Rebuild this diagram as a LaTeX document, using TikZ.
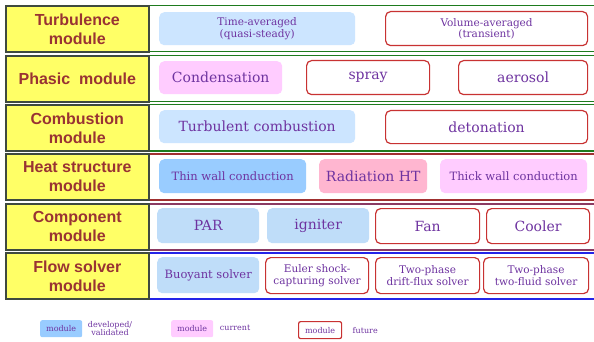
\documentclass[tikz,border=0pt]{standalone}
\usepackage{fontspec}
\setmainfont{DejaVu Serif}
\newfontfamily\labelsans{Liberation Sans}
\usepackage{tikz}
\usetikzlibrary{positioning}

\definecolor{labelyellow}{HTML}{FFFF66}
\definecolor{labelborder}{HTML}{3F4A3F}
\definecolor{labeltext}{HTML}{993333}
\definecolor{blocktext}{HTML}{6E33A0}
\definecolor{lightdone}{HTML}{CCE5FF}
\definecolor{donefill}{HTML}{BFDDF9}
\definecolor{darkdone}{HTML}{99CCFF}
\definecolor{curfill}{HTML}{FFCCFF}
\definecolor{radfill}{HTML}{FFB6D0}
\definecolor{futureline}{HTML}{C83232}
\definecolor{greenframe}{HTML}{1E7B1E}
\definecolor{redframe}{HTML}{A03030}
\definecolor{maroonframe}{HTML}{8B3A62}
\definecolor{blueframe}{HTML}{2424E8}

\begin{document}
\begin{tikzpicture}[
    x=1pt, y=-1pt,
    modlabel/.style={rectangle, draw=labelborder, line width=1.6pt, fill=labelyellow, text=labeltext, align=center, inner sep=0pt, anchor=north west, minimum width=143pt, minimum height=46pt, font={\labelsans\bfseries\fontsize{16}{19}\selectfont}},
    rowframe/.style={rectangle, line width=1.5pt, fill=white, anchor=north west, minimum width=490pt, minimum height=46pt},
    doneblock/.style={rectangle, rounded corners=5pt, fill=donefill, text=blocktext, align=center, inner sep=0pt, anchor=north west, font=\fontsize{14}{16}\selectfont},
    curblock/.style={doneblock, fill=curfill},
    futureblock/.style={doneblock, fill=white, draw=futureline, line width=1.2pt},
    small/.style={font=\fontsize{11.5}{13}\selectfont},
    twoline/.style={font=\fontsize{10.5}{11.5}\selectfont},
    legtext/.style={text=blocktext, align=center, font=\fontsize{8}{8.5}\selectfont},
]
\useasboundingbox (0,0) rectangle (594,342);

% Row frames
\node[rowframe, draw=greenframe] (f1) at (148,5) {};
\node[rowframe, draw=greenframe] (f2) at (148,55) {};
\node[rowframe, draw=greenframe] (f3) at (148,104) {};
\node[rowframe, draw=redframe] (f4) at (148,153) {};
\node[rowframe, draw=maroonframe] (f5) at (148,203) {};
\node[rowframe, draw=blueframe] (f6) at (148,252) {};

% Module labels
\node[modlabel] (turb) at (5,5) {Turbulence\\module};
\node[modlabel] (phas) at (5,55) {Phasic\ \ module};
\node[modlabel] (comb) at (5,104) {Combustion\\module};
\node[modlabel] (heat) at (5,153) {Heat structure\\module};
\node[modlabel] (comp) at (5,203) {Component\\module};
\node[modlabel] (flow) at (5,252) {Flow solver\\module};

% Turbulence
\node[doneblock, twoline, fill=lightdone, minimum width=196pt, minimum height=33pt] (timeavg) at (159,12) {Time-averaged\\(quasi-steady)};
\node[futureblock, twoline, minimum width=202pt, minimum height=34pt] (volavg) at (385,11) {Volume-averaged\\(transient)};

% Phasic
\node[curblock, minimum width=123pt, minimum height=33pt] (cond) at (159,61) {Condensation};
\node[futureblock, minimum width=123pt, minimum height=34pt] (spray) at (306,60) {spray};
\node[futureblock, minimum width=129pt, minimum height=34pt] (aero) at (458,60) {aerosol};

% Combustion
\node[doneblock, fill=lightdone, minimum width=196pt, minimum height=33pt] (turbcomb) at (159,110) {Turbulent combustion};
\node[futureblock, minimum width=202pt, minimum height=33pt] (deto) at (385,110) {detonation};

% Heat structure
\node[doneblock, small, fill=darkdone, minimum width=147pt, minimum height=34pt] (thin) at (159,159) {Thin wall conduction};
\node[doneblock, fill=radfill, minimum width=108pt, minimum height=34pt] (rad) at (319,159) {Radiation HT};
\node[curblock, small, minimum width=147pt, minimum height=34pt] (thick) at (440,159) {Thick wall conduction};

% Component
\node[doneblock, minimum width=102pt, minimum height=35pt] (par) at (157,208) {PAR};
\node[doneblock, minimum width=102pt, minimum height=35pt] (ign) at (267,208) {igniter};
\node[futureblock, minimum width=104pt, minimum height=35pt] (fan) at (375,208) {Fan};
\node[futureblock, minimum width=103pt, minimum height=35pt] (cool) at (486,208) {Cooler};

% Flow solver
\node[doneblock, small, minimum width=102pt, minimum height=36pt] (buoy) at (157,257) {Buoyant solver};
\node[futureblock, twoline, minimum width=103pt, minimum height=36pt] (euler) at (265,257) {Euler shock-\\capturing solver};
\node[futureblock, twoline, minimum width=104pt, minimum height=36pt] (drift) at (375,257) {Two-phase\\drift-flux solver};
\node[futureblock, twoline, minimum width=105pt, minimum height=36pt] (twofl) at (483,257) {Two-phase\\two-fluid solver};

% Legend
\node[doneblock, legtext, fill=darkdone, rounded corners=2pt, minimum width=42pt, minimum height=17pt] (legdone) at (40,320) {module};
\node[legtext, right=2pt of legdone] (legdonetxt) {developed/\\validated};
\node[curblock, legtext, rounded corners=2pt, minimum width=42pt, minimum height=17pt] (legcur) at (171,320) {module};
\node[legtext, right=3pt of legcur, yshift=1pt] (legcurtxt) {current};
\node[futureblock, legtext, rounded corners=2pt, minimum width=43pt, minimum height=17pt] (legfut) at (298,321) {module};
\node[legtext, right=7pt of legfut] (legfuttxt) {future};

\end{tikzpicture}
\end{document}
